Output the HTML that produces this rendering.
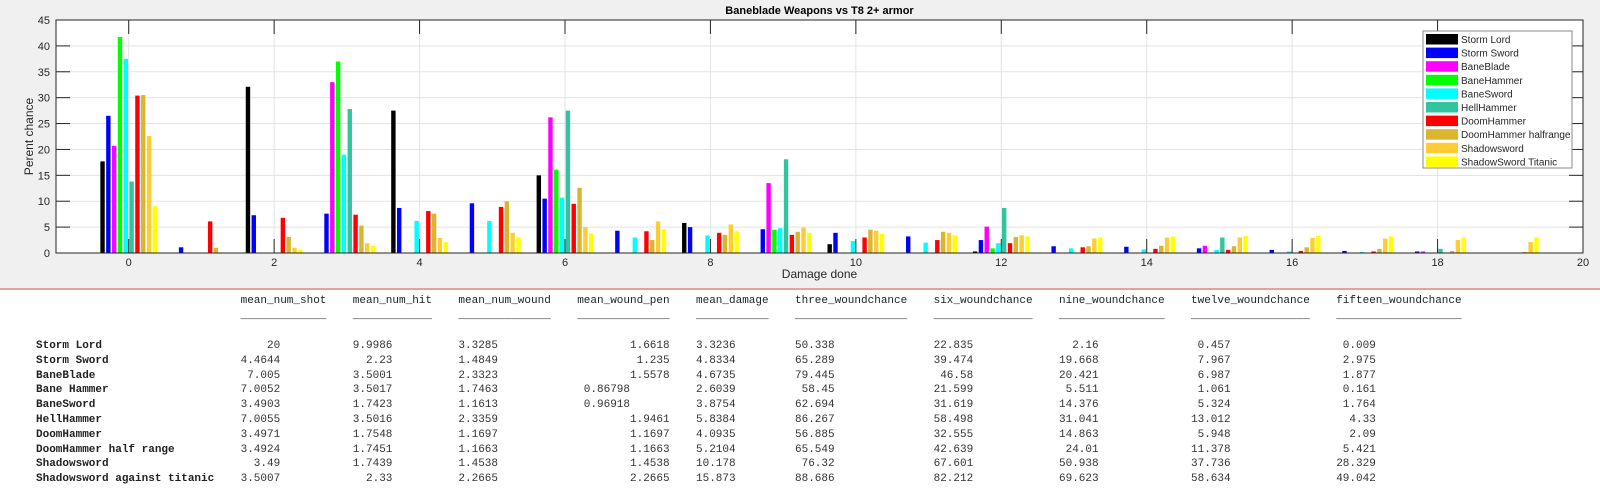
<!DOCTYPE html>
<html><head><meta charset="utf-8">
<style>
body{margin:0;width:1600px;height:491px;overflow:hidden;background:#fff;font-family:"Liberation Sans",sans-serif;position:relative}
#fig{position:absolute;left:0;top:0;width:1600px;height:288px;background:#f0f0f0}
#sep{position:absolute;left:0;top:288px;width:1600px;height:2px;background:#e8a293}
.t{position:absolute;font-family:"Liberation Mono",monospace;font-size:11px;white-space:pre;line-height:13px;color:#333}
.nm{font-weight:bold;color:#222}
.hd{color:#222}
</style></head><body>
<div id="fig">
<svg id="chart" width="1600" height="288"></svg>
</div>
<div id="sep"></div>
<div id="table"></div>
<script>
const categories=[0,1,2,3,4,5,6,7,8,9,10,11,12,13,14,15,16,17,18,19];
const seriesNames=["Storm Lord","Storm Sword","BaneBlade","BaneHammer","BaneSword","HellHammer","DoomHammer","DoomHammer halfrange","Shadowsword","ShadowSword Titanic"];
const seriesColors=["#000000","#0000ff","#ff00ff","#00ff00","#00ffff","#33c39f","#ff0000","#dab62e","#ffcc33","#ffff00"];
const stormLord=[17.7,0,32.1,0,27.5,0,15.0,0,5.8,0,1.7,0,0.3,0,0,0,0,0,0,0];
const stormSword=[26.5,1.1,7.3,7.6,8.7,9.6,10.5,4.3,5.0,4.6,3.9,3.2,2.5,1.3,1.2,0.9,0.6,0.4,0.3,0.1];
const baneBlade=[20.7,0,0,33.0,0,0,26.2,0,0,13.5,0,0,5.1,0,0,1.4,0,0,0.3,0];
const baneHammer=[41.7,0,0,37.0,0,0,16.1,0,0,4.5,0,0,0.9,0,0,0,0,0,0,0];
const baneSword=[37.5,0,0,19.0,6.2,6.2,10.7,3.0,3.4,4.8,2.3,2.0,1.9,0.9,0.7,0.6,0.3,0.2,0,0];
const hellHammer=[13.8,0,0,27.8,0,0,27.5,0,0,18.1,0,0,8.7,0,0,3.0,0,0,0.8,0];
const doomHammer=[30.4,6.1,6.8,7.4,8.1,8.9,9.5,4.2,3.9,3.5,3.0,2.5,1.9,1.1,0.8,0.6,0.4,0.3,0.1,0];
const doomHalf=[30.5,1.0,3.1,5.3,7.6,10.0,12.6,2.5,3.5,4.1,4.5,4.1,3.1,1.3,1.4,1.3,1.1,0.8,0.4,0.2];
const shadowsword=[22.6,0,1.0,1.9,2.9,3.9,5.0,6.1,5.5,4.9,4.3,3.9,3.4,2.8,3.0,3.0,2.9,2.8,2.5,2.1];
const shadowTitanic=[9.0,0,0.6,1.4,2.1,3.0,3.8,4.6,4.2,3.9,3.7,3.4,3.2,3.0,3.2,3.3,3.3,3.2,3.0,3.0];
const xTicks=[0,2,4,6,8,10,12,14,16,18,20];
const yTicks=[0,5,10,15,20,25,30,35,40,45];

const allSeries=[stormLord,stormSword,baneBlade,baneHammer,baneSword,hellHammer,doomHammer,doomHalf,shadowsword,shadowTitanic];
const L=56,R=1583,T=20,B=253,XMIN=-1,XMAX=20,YMAX=45;
const xs=v=>L+(v-XMIN)/(XMAX-XMIN)*(R-L);
const ys=v=>B-v/YMAX*(B-T);
const NS="http://www.w3.org/2000/svg";
const svg=document.getElementById('chart');
function mk(tag,attrs,parent){const e=document.createElementNS(NS,tag);for(const k in attrs)e.setAttribute(k,attrs[k]);(parent||svg).appendChild(e);return e;}
let e;
e=mk('rect',{x:L,y:T,width:R-L,height:B-T,fill:'#fff'});


yTicks.forEach(v=>{
  e=mk('line',{x1:L,x2:R,y1:ys(v),y2:ys(v),stroke:'#e3e3e3','stroke-width':1});
  
  
  e=mk('text',{x:L-6,y:ys(v)+4,'text-anchor':'end','font-size':11,fill:'#262626'});
  e.textContent=v;
  
  
});
xTicks.forEach(v=>{
  e=mk('line',{x1:xs(v),x2:xs(v),y1:T,y2:B,stroke:'#e3e3e3','stroke-width':1});
  
  
  e=mk('text',{x:xs(v),y:B+13,'text-anchor':'middle','font-size':11,fill:'#262626'});
  e.textContent=v;
  
  
});
const step=(0.8/10);
allSeries.forEach((ser,si)=>{
  ser.forEach((v,ci)=>{
    if(v<=0)return;
    const cx=xs(categories[ci]+(si-4.5)*step);
    const w=4.4;
    e=mk('rect',{x:cx-w/2,y:ys(v),width:w,height:B-ys(v),fill:seriesColors[si]});
    
    
  });
});
xTicks.forEach(v=>{
  mk('line',{x1:xs(v),x2:xs(v),y1:B,y2:B-14,stroke:'#262626'});
  mk('line',{x1:xs(v),x2:xs(v),y1:T,y2:T+14,stroke:'#262626'});
});
yTicks.forEach(v=>{
  mk('line',{x1:L,x2:L+14,y1:ys(v),y2:ys(v),stroke:'#262626'});
  mk('line',{x1:R,x2:R-14,y1:ys(v),y2:ys(v),stroke:'#262626'});
});
e=mk('rect',{x:L,y:T,width:R-L,height:B-T,fill:'none',stroke:'#262626','stroke-width':1});


e=mk('text',{x:(L+R)/2,y:14,'text-anchor':'middle','font-size':11,'font-weight':'bold',fill:'#000'});
e.textContent='Baneblade Weapons vs T8 2+ armor';


e=mk('text',{x:(L+R)/2,y:278,'text-anchor':'middle','font-size':12,fill:'#262626'});
e.textContent='Damage done';


e=mk('text',{x:0,y:0,'text-anchor':'middle','font-size':12,fill:'#262626',transform:'translate(33,'+((T+B)/2)+') rotate(-90)'});
e.textContent='Perent chance';


const lg=mk('g',{});


mk('rect',{x:1423,y:31,width:149,height:137,fill:'#fff',stroke:'#8a8a8a'},lg);
seriesNames.forEach((n,i)=>{
  const y=34+i*13.6;
  e=mk('rect',{x:1426,y:y,width:32,height:10.5,fill:seriesColors[i]},lg);
  
  
  e=mk('text',{x:1461,y:y+9,'font-size':10,fill:'#262626'},lg);
  e.textContent=n;
  
  
});

const headers=["mean_num_shot","mean_num_hit","mean_num_wound","mean_wound_pen","mean_damage","three_woundchance","six_woundchance","nine_woundchance","twelve_woundchance","fifteen_woundchance"];
const colW=[6,6,6,14,6,6,6,6,6,6];
const rowNames=["Storm Lord","Storm Sword","BaneBlade","Bane Hammer","BaneSword","HellHammer","DoomHammer","DoomHammer half range","Shadowsword","Shadowsword against titanic"];
const rows=[
["20","9.9986","3.3285","1.6618","3.3236","50.338","22.835","2.16","0.457","0.009"],
["4.4644","2.23","1.4849","1.235","4.8334","65.289","39.474","19.668","7.967","2.975"],
["7.005","3.5001","2.3323","1.5578","4.6735","79.445","46.58","20.421","6.987","1.877"],
["7.0052","3.5017","1.7463","0.86798","2.6039","58.45","21.599","5.511","1.061","0.161"],
["3.4903","1.7423","1.1613","0.96918","3.8754","62.694","31.619","14.376","5.324","1.764"],
["7.0055","3.5016","2.3359","1.9461","5.8384","86.267","58.498","31.041","13.012","4.33"],
["3.4971","1.7548","1.1697","1.1697","4.0935","56.885","32.555","14.863","5.948","2.09"],
["3.4924","1.7451","1.1663","1.1663","5.2104","65.549","42.639","24.01","11.378","5.421"],
["3.49","1.7439","1.4538","1.4538","10.178","76.32","67.601","50.938","37.736","28.329"],
["3.5007","2.33","2.2665","2.2665","15.873","88.686","82.212","69.623","58.634","49.042"]];
const tb=document.getElementById('table');
const CW=6.6,X0=36,NAMEW=31;
let starts=[],c=NAMEW;
headers.forEach(h=>{starts.push(c);c+=h.length+4;});
function put(txt,col,y,cls,name){const d=document.createElement('div');d.className='t '+cls;d.style.left=(X0+col*CW)+'px';d.style.top=y+'px';d.textContent=txt;tb.appendChild(d);}
headers.forEach((h,i)=>{
  put(h,starts[i],295,'hd','column-header');
  put('_'.repeat(h.length),starts[i],310,'hd','header-underline');
});
rowNames.forEach((n,r)=>{
  const y=340+r*14.8;
  put(n,0,y,'nm','row-name');
  rows[r].forEach((v,i)=>{
    let w=colW[i];
    if(i===3&&v.length>=7){put(v.padStart(7),starts[i]+1,y,'','cell-value');return;}
    put(v.padStart(w),starts[i],y,'','cell-value');
  });
});
</script>
</body></html>
